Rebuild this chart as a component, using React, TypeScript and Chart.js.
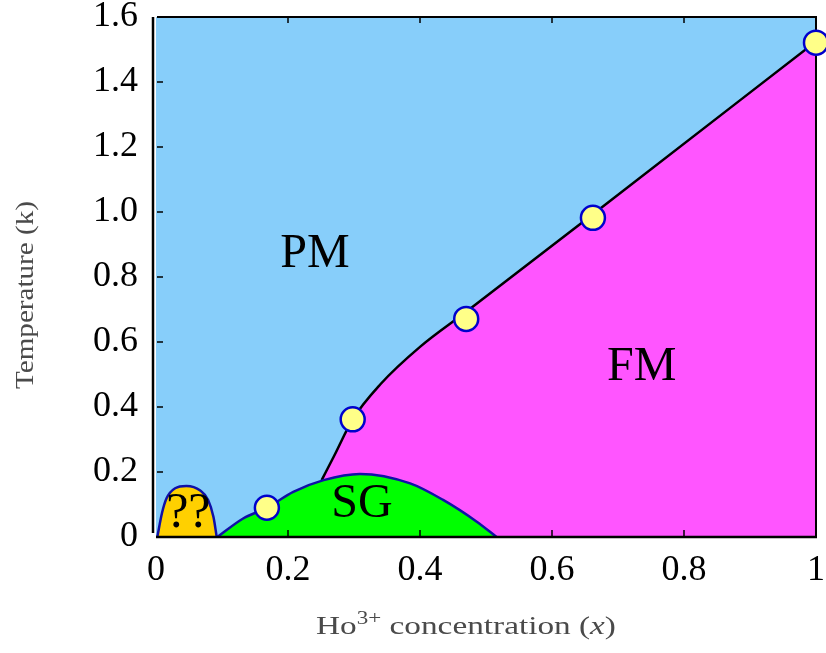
import { useEffect, useRef } from "react";
import { Chart, registerables } from "chart.js";

Chart.register(...registerables);

// Axis ticks
const X_TICKS = [0, 0.2, 0.4, 0.6, 0.8, 1];
const Y_TICKS = [0, 0.2, 0.4, 0.6, 0.8, 1.0, 1.2, 1.4, 1.6];

// Measured transition temperatures
const MEAS_X = [0.168, 0.298, 0.47, 0.662, 1.0];
const MEAS_T = [0.09, 0.362, 0.671, 0.982, 1.521];

// Paramagnet / ferromagnet phase boundary
const PMFM_X = [0.251, 0.27, 0.298, 0.34, 0.4, 0.47, 0.66, 1.0];
const PMFM_T = [0.175, 0.25, 0.362, 0.47, 0.585, 0.693, 0.99, 1.525];

// Spin-glass dome
const SG_X = [0.093, 0.132, 0.168, 0.208, 0.254, 0.309, 0.385, 0.435, 0.486, 0.516];
const SG_T = [0, 0.057, 0.09, 0.139, 0.175, 0.194, 0.165, 0.114, 0.047, 0];

// Unidentified low-concentration phase
const UNK_X = [0.002, 0.009, 0.016, 0.029, 0.046, 0.067, 0.079, 0.087, 0.092];
const UNK_T = [0, 0.073, 0.119, 0.15, 0.157, 0.143, 0.114, 0.062, 0];

// Phase names and where they sit (data coordinates)
const REGION_NAMES = ["PM", "FM", "SG", "??"];
const REGION_X = [0.241, 0.736, 0.312, 0.049];
const REGION_T = [0.869, 0.523, 0.1, 0.072];

const SERIF = "'Liberation Serif', 'Times New Roman', serif";
const PM_COLOR = "#87CEFA";
const FM_COLOR = "#FF55FF";
const SG_COLOR = "#00FF00";
const UNK_COLOR = "#FFD000";
const DOME_EDGE = "#1010A8";
const TITLE_COLOR = "#4a4a4a";

const pts = (xs: number[], ys: number[]) => xs.map((x, i) => ({ x, y: ys[i] }));

const fmtY = (v: number) => (v === 0 ? "0" : v.toFixed(1));
const fmtX = (v: number) => (v === 0 || v === 1 ? String(v) : v.toFixed(1));

function drawFrame(chart: any) {
  const { ctx, scales } = chart;
  const xs = scales.x;
  const ys = scales.y;
  const l = xs.getPixelForValue(0);
  const r = xs.getPixelForValue(1);
  const t = ys.getPixelForValue(1.6);
  const b = ys.getPixelForValue(0);
  ctx.save();
  ctx.strokeStyle = "#000";
  ctx.lineCap = "butt";
  // top and right edges of the box
  ctx.lineWidth = 2;
  ctx.beginPath();
  ctx.moveTo(l + 1, t);
  ctx.lineTo(r, t);
  ctx.lineTo(r, b);
  ctx.stroke();
  // left axis (offset a little from the box)
  ctx.lineWidth = 2.5;
  ctx.beginPath();
  ctx.moveTo(l - 3, t);
  ctx.lineTo(l - 3, b - 4);
  ctx.stroke();
  // bottom axis
  ctx.beginPath();
  ctx.moveTo(l, b);
  ctx.lineTo(r + 1, b);
  ctx.stroke();
  // inward tick marks
  ctx.lineWidth = 1.5;
  ctx.beginPath();
  for (const v of Y_TICKS) {
    if (v === 0 || v === 1.6) continue;
    const py = ys.getPixelForValue(v);
    ctx.moveTo(l + 1, py);
    ctx.lineTo(l + 7, py);
  }
  for (const v of X_TICKS) {
    if (v === 0 || v === 1) continue;
    const px = xs.getPixelForValue(v);
    ctx.moveTo(px, b);
    ctx.lineTo(px, b - 7);
    ctx.moveTo(px, t);
    ctx.lineTo(px, t + 6);
  }
  ctx.stroke();
  ctx.restore();
}

const phasePlugin = {
  id: "phaseDiagram",
  beforeDatasetsDraw(chart: any) {
    const { ctx, scales } = chart;
    const l = scales.x.getPixelForValue(0);
    const r = scales.x.getPixelForValue(1);
    const t = scales.y.getPixelForValue(1.6);
    const b = scales.y.getPixelForValue(0);
    ctx.save();
    ctx.fillStyle = PM_COLOR;
    ctx.fillRect(l, t, r - l, b - t);
    ctx.restore();
  },
  beforeDatasetDraw(chart: any, args: any) {
    // the measured points sit above the frame
    if (args.index === 0) drawFrame(chart);
  },
  afterDraw(chart: any) {
    const { ctx, scales } = chart;
    ctx.save();
    // phase names
    ctx.fillStyle = "#000";
    ctx.textAlign = "center";
    ctx.textBaseline = "middle";
    REGION_NAMES.forEach((name, i) => {
      ctx.font = `${name === "??" ? 50 : 48}px ${SERIF}`;
      ctx.fillText(name, scales.x.getPixelForValue(REGION_X[i]), scales.y.getPixelForValue(REGION_T[i]));
    });

    // x axis title: Ho^{3+} concentration (x)
    const base = 26;
    const parts = [
      { text: "Ho", font: `${base}px ${SERIF}`, dy: 0 },
      { text: "3+", font: `${Math.round(base * 0.7)}px ${SERIF}`, dy: -10 },
      { text: " concentration (", font: `${base}px ${SERIF}`, dy: 0 },
      { text: "x", font: `italic ${base}px ${SERIF}`, dy: 0 },
      { text: ")", font: `${base}px ${SERIF}`, dy: 0 },
    ];
    let total = 0;
    const widths = parts.map((p) => {
      ctx.font = p.font;
      const w = ctx.measureText(p.text).width;
      total += w;
      return w;
    });
    const sx = 1.28;
    ctx.fillStyle = TITLE_COLOR;
    ctx.textAlign = "left";
    ctx.textBaseline = "alphabetic";
    ctx.save();
    ctx.translate(466 - (total * sx) / 2, 634);
    ctx.scale(sx, 1);
    let cx = 0;
    parts.forEach((p, i) => {
      ctx.font = p.font;
      ctx.fillText(p.text, cx, p.dy);
      cx += widths[i];
    });
    ctx.restore();

    // y axis title
    ctx.save();
    ctx.translate(33, 295);
    ctx.rotate(-Math.PI / 2);
    ctx.scale(1.12, 1);
    ctx.font = `${base}px ${SERIF}`;
    ctx.textAlign = "center";
    ctx.fillText("Temperature (k)", 0, 0);
    ctx.restore();

    ctx.restore();
  },
};

export default function App() {
  const canvasRef = useRef<HTMLCanvasElement | null>(null);

  useEffect(() => {
    if (!canvasRef.current) return;
    const chart = new Chart(canvasRef.current, {
      type: "line",
      data: {
        datasets: [
          {
            label: "measured",
            data: pts(MEAS_X, MEAS_T),
            showLine: false,
            pointRadius: 12,
            pointHoverRadius: 12,
            pointBorderWidth: 2.5,
            pointBackgroundColor: "#FFFF88",
            pointBorderColor: "#0000CC",
            clip: false,
            order: 0,
          } as any,
          {
            label: "??",
            data: pts(UNK_X, UNK_T),
            borderColor: DOME_EDGE,
            borderWidth: 2.5,
            backgroundColor: UNK_COLOR,
            fill: "origin",
            pointRadius: 0,
            cubicInterpolationMode: "monotone",
            order: 1,
          },
          {
            label: "SG",
            data: pts(SG_X, SG_T),
            borderColor: DOME_EDGE,
            borderWidth: 2.5,
            backgroundColor: SG_COLOR,
            fill: "origin",
            pointRadius: 0,
            cubicInterpolationMode: "monotone",
            order: 2,
          },
          {
            label: "FM",
            data: pts(PMFM_X, PMFM_T),
            borderColor: "#000",
            borderWidth: 2.5,
            backgroundColor: FM_COLOR,
            fill: "origin",
            pointRadius: 0,
            cubicInterpolationMode: "monotone",
            order: 3,
          },
        ],
      },
      options: {
        animation: false,
        responsive: true,
        maintainAspectRatio: false,
        events: [],
        layout: { padding: { top: 17, right: 10, left: 0, bottom: 0 }, autoPadding: false },
        plugins: { legend: { display: false }, tooltip: { enabled: false } },
        scales: {
          x: {
            type: "linear",
            min: 0,
            max: 1,
            grid: { display: false, drawTicks: false },
            border: { display: false },
            ticks: {
              color: "#000",
              font: { family: SERIF, size: 36 },
              padding: 12,
              maxRotation: 0,
              callback: (v: any) => fmtX(Number(v)),
            },
            afterBuildTicks: (s: any) => {
              s.ticks = X_TICKS.map((value) => ({ value }));
            },
            afterFit: (s: any) => {
              s.height = 116;
              s.paddingLeft = 0;
              s.paddingRight = 0;
            },
          },
          y: {
            type: "linear",
            min: 0,
            max: 1.6,
            grid: { display: false, drawTicks: false },
            border: { display: false },
            ticks: {
              color: "#000",
              font: { family: SERIF, size: 36 },
              padding: 18,
              callback: (v: any) => fmtY(Number(v)),
            },
            afterBuildTicks: (s: any) => {
              s.ticks = Y_TICKS.map((value) => ({ value }));
            },
            afterFit: (s: any) => {
              s.width = 156;
              s.paddingTop = 0;
              s.paddingBottom = 0;
            },
          },
        },
      },
      plugins: [phasePlugin],
    });
    return () => chart.destroy();
  }, []);

  return (
    <div style={{ position: "fixed", left: 0, top: 0, width: 826, height: 653, background: "#fff" }}>
      <canvas ref={canvasRef} />
    </div>
  );
}
